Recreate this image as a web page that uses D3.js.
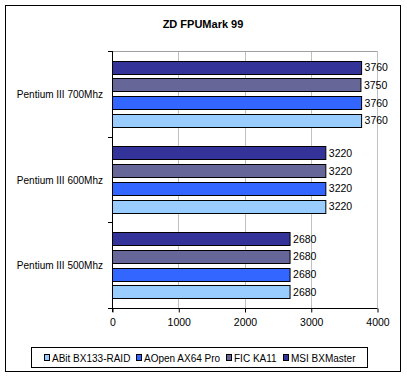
<!DOCTYPE html>
<html>
<head>
<meta charset="utf-8">
<script src="https://cdn.jsdelivr.net/npm/d3@7"></script>
<style>
  body { margin: 0; background: #fff; }
  text { font-family: Arial, "Liberation Sans", sans-serif; }
</style>
</head>
<body>
<div id="chart"></div>
<script>
const width = 407;
const height = 377;

const categories = ["Pentium III 700Mhz", "Pentium III 600Mhz", "Pentium III 500Mhz"];
const seriesNames = ["ABit BX133-RAID", "AOpen AX64 Pro", "FIC KA11", "MSI BXMaster"];
const seriesColors = ["#99ccff", "#3366ff", "#666699", "#333399"];
const abitValues = [3760, 3220, 2680];
const aopenValues = [3760, 3220, 2680];
const ficValues = [3750, 3220, 2680];
const msiValues = [3760, 3220, 2680];
const xTicks = [0, 1000, 2000, 3000, 4000];

const seriesValues = [abitValues, aopenValues, ficValues, msiValues];

const rows = [];
categories.forEach((c, i) => {
    seriesNames.forEach((s, j) => {
        rows.push({ category: c, series: s, value: seriesValues[j][i], color: seriesColors[j] });
    });
});

const svg = d3.select("#chart")
    .append("svg")
    .attr("width", width)
    .attr("height", height);

// outer chart border
svg.append("rect")
    .attr("x", 5.5).attr("y", 5.5)
    .attr("width", 395).attr("height", 366)
    .attr("fill", "#fff")
    .attr("stroke", "#000");

svg.append("text")
    .attr("x", 203)
    .attr("y", 27.5)
    .attr("text-anchor", "middle")
    .attr("font-size", "11px")
    .attr("font-weight", "bold")
    .text("ZD FPUMark 99");

const plot = { left: 112, right: 377, top: 51, bottom: 308 };

const x = d3.scaleLinear()
    .domain([0, 4000])
    .range([plot.left, plot.right]);

const y = d3.scaleBand()
    .domain(categories)
    .range([plot.top, plot.bottom]);

// inside each category the last series sits on top
const yInner = d3.scaleBand()
    .domain(seriesNames.slice().reverse())
    .range([0, y.bandwidth()])
    .paddingInner(0.265)
    .paddingOuter(0.55);

// gridlines + plot border
svg.append("g")
    .selectAll("line")
    .data(xTicks.slice(1))
    .enter().append("line")
    .attr("x1", d => Math.round(x(d)) + 0.5)
    .attr("x2", d => Math.round(x(d)) + 0.5)
    .attr("y1", plot.top + 0.5)
    .attr("y2", plot.bottom)
    .attr("stroke", "#c0c0c0");

svg.append("line")
    .attr("x1", plot.left).attr("x2", plot.right + 0.5)
    .attr("y1", plot.top + 0.5).attr("y2", plot.top + 0.5)
    .attr("stroke", "#a0a0a0");

svg.append("g")
    .selectAll("rect")
    .data(rows)
    .enter().append("rect")
    .attr("x", x(0) + 0.5)
    .attr("y", d => Math.round(y(d.category) + yInner(d.series)) + 0.5)
    .attr("width", d => x(d.value) - x(0))
    .attr("height", Math.round(yInner.bandwidth()))
    .attr("fill", d => d.color)
    .attr("stroke", "#000");

svg.append("g")
    .selectAll("text")
    .data(rows)
    .enter().append("text")
    .attr("x", d => x(d.value) + 3.5)
    .attr("y", d => y(d.category) + yInner(d.series) + yInner.bandwidth() / 2 + 4)
    .attr("font-size", "10.5px")
    .text(d => d.value);

// y axis
const yAxis = svg.append("g");
yAxis.append("line")
    .attr("x1", plot.left + 0.5).attr("x2", plot.left + 0.5)
    .attr("y1", plot.top).attr("y2", plot.bottom + 4)
    .attr("stroke", "#000");
yAxis.selectAll(".tick")
    .data(d3.range(categories.length + 1))
    .enter().append("line")
    .attr("x1", plot.left - 4).attr("x2", plot.left)
    .attr("y1", i => Math.round(plot.top + i * y.step()) + 0.5)
    .attr("y2", i => Math.round(plot.top + i * y.step()) + 0.5)
    .attr("stroke", "#000");
yAxis.selectAll(".lbl")
    .data(categories)
    .enter().append("text")
    .attr("x", 103)
    .attr("y", d => y(d) + y.bandwidth() / 2 + 4)
    .attr("text-anchor", "end")
    .attr("font-size", "10px")
    .text(d => d);

// x axis
svg.append("g")
    .attr("transform", `translate(0.5, ${plot.bottom + 0.5})`)
    .call(d3.axisBottom(x).tickValues(xTicks).tickSize(4).tickPadding(6).tickFormat(d3.format("d")))
    .call(g => g.select(".domain").attr("d", `M${plot.left - 4},0H${plot.right}`))
    .call(g => g.selectAll("text").attr("font-size", "10.5px").attr("font-family", "Arial, 'Liberation Sans', sans-serif").attr("fill", "#000"));

// legend: items laid out one after another inside the box
const legend = svg.append("g");
const boxX = 31.5, boxW = 336;
legend.append("rect")
    .attr("x", boxX).attr("y", 347.5)
    .attr("width", boxW).attr("height", 20)
    .attr("fill", "#fff")
    .attr("stroke", "#000");

const items = legend.selectAll(".item")
    .data(seriesNames)
    .enter().append("g");
items.append("rect")
    .attr("x", 0.5).attr("y", 0.5)
    .attr("width", 5).attr("height", 6)
    .attr("fill", (d, i) => seriesColors[i])
    .attr("stroke", "#000");
items.append("text")
    .attr("x", 8)
    .attr("y", 7.5)
    .attr("font-size", "10px")
    .text(d => d);

const itemW = [];
items.each(function () {
    itemW.push(8 + this.querySelector("text").getComputedTextLength());
});
const gap = 6;
const total = d3.sum(itemW) + gap * (itemW.length - 1);
let cx = boxX + (boxW - total) / 2;
items.attr("transform", (d, i) => {
    const t = `translate(${Math.round(cx)}, 354)`;
    cx += itemW[i] + gap;
    return t;
});
</script>
</body>
</html>
